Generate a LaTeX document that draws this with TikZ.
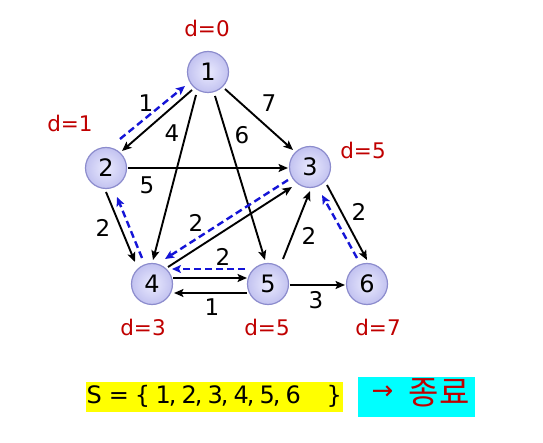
\documentclass[tikz,border=0pt]{standalone}
\usepackage{fontspec}
\setmainfont{DejaVu Sans}
\newfontfamily\krfont{Noto Sans CJK KR}
\usetikzlibrary{arrows.meta,calc}
\definecolor{nodeborder}{RGB}{140,140,205}
\definecolor{nodein}{RGB}{234,234,254}
\definecolor{nodeout}{RGB}{194,194,240}
\definecolor{dred}{RGB}{192,0,0}
\definecolor{pathblue}{RGB}{20,20,215}
\definecolor{syellow}{RGB}{255,255,0}
\definecolor{ecyan}{RGB}{0,255,255}
\newcommand{\cm}{\kern-2pt,\hspace{5.1pt}}
\begin{document}
\begin{tikzpicture}[x=1pt,y=-1pt,
  vtx/.style={circle, draw=nodeborder, line width=1.2pt, inner color=nodein, outer color=nodeout, minimum size=41pt, inner sep=0pt, font=\fontsize{24}{28}\selectfont},
  edge/.style={line width=1.9pt, -{Stealth[length=9.5pt,width=8pt,inset=2pt]}},
  tree/.style={pathblue, line width=2.4pt, dash pattern=on 7pt off 4pt, -{Stealth[length=9pt,width=8pt,inset=2pt]}},
  wt/.style={font=\fontsize{23}{27}\selectfont, inner sep=0pt},
  dist/.style={text=dred, font=\fontsize{21.5}{25}\selectfont, inner sep=0pt}]
\useasboundingbox[fill=white] (0,0) rectangle (543,443);

% vertices
\node[vtx] (n1) at (208,72) {1};
\node[vtx] (n2) at (106,168) {2};
\node[vtx] (n3) at (310,167) {3};
\node[vtx] (n4) at (152,284) {4};
\node[vtx] (n5) at (268,284) {5};
\node[vtx] (n6) at (367,284) {6};

% black edges
\draw[edge] ($(n1)+(-16,18)$) -- ($(n2)+(16,-17)$);
\draw[edge] ($(n1)+(17,17)$) -- ($(n3)+(-17,-17)$);
\draw[edge] ($(n1)+(-12,23)$) -- ($(n4)+(1,-24)$);
\draw[edge] ($(n1)+(7,24)$) -- ($(n5)+(-3,-24)$);
\draw[edge] ($(n2)+(22,0)$) -- ($(n3)+(-22,1)$);
\draw[edge] ($(n2)+(0,24)$) -- ($(n4)+(-17,-22)$);
\draw[edge] ($(n4)+(16,-17)$) -- ($(n3)+(-18,20)$);
\draw[edge] ($(n4)+(21,-6)$) -- ($(n5)+(-21,-6)$);
\draw[edge] ($(n5)+(-21,9)$) -- ($(n4)+(22,9)$);
\draw[edge] ($(n5)+(15,-25)$) -- ($(n3)+(0,24)$);
\draw[edge] ($(n3)+(17,18)$) -- ($(n6)+(0,-24)$);
\draw[edge] ($(n5)+(22,1)$) -- ($(n6)+(-22,1)$);

% shortest-path tree (blue dashed)
\draw[tree] ($(n2)+(14,-29)$) -- ($(n1)+(-23,14)$);
\draw[tree] ($(n4)+(-10,-26)$) -- ($(n2)+(11,29)$);
\draw[tree] ($(n3)+(-22,13)$) -- ($(n4)+(13,-25)$);
\draw[tree] ($(n5)+(-23,-15)$) -- ($(n4)+(20,-15)$);
\draw[tree] ($(n6)+(-10,-26)$) -- ($(n3)+(12,28)$);

% weights
\node[wt] (w12) at (146,103) {1};
\node[wt] (w14) at (172,133) {4};
\node[wt] (w15) at (242,135) {6};
\node[wt] (w13) at (269,103) {7};
\node[wt] (w23) at (147,185) {5};
\node[wt] (w24) at (103,228) {2};
\node[wt] (w43) at (196,223) {2};
\node[wt] (w45) at (223,257) {2};
\node[wt] (w53) at (309,236) {2};
\node[wt] (w36) at (359,212) {2};
\node[wt] (w54) at (212,307) {1};
\node[wt] (w56) at (316,300) {3};

% distances
\node[dist] (d1) at (207,28) {d=0};
\node[dist] (d2) at (70,123) {d=1};
\node[dist] (d3) at (363,150) {d=5};
\node[dist] (d4) at (143,327) {d=3};
\node[dist] (d5) at (267,327) {d=5};
\node[dist] (d6) at (378,327) {d=7};

% bottom boxes
\node[fill=syellow, minimum width=257pt, minimum height=30pt, inner sep=0pt] (sbox) at (214.5,397) {};
\node[anchor=base west, inner sep=0pt, font=\fontsize{24}{28}\selectfont] (stext) at (86.4,403)
  {S\hspace{7pt}=\hspace{6pt}\{\hspace{5.4pt}1\cm 2\cm 3\cm 4\cm 5\cm 6\hspace{25.9pt}\}};
\node[fill=ecyan, minimum width=117pt, minimum height=40pt, inner sep=0pt] (ebox) at (416.5,397) {};
\node[text=dred, inner sep=0pt, font=\fontsize{26}{30}\selectfont] (arr) at (382.5,393) {→};
\node[text=dred, inner sep=0pt, font=\krfont\fontsize{33}{38}\selectfont] (done) at (439,393) {종료};
\end{tikzpicture}
\end{document}
